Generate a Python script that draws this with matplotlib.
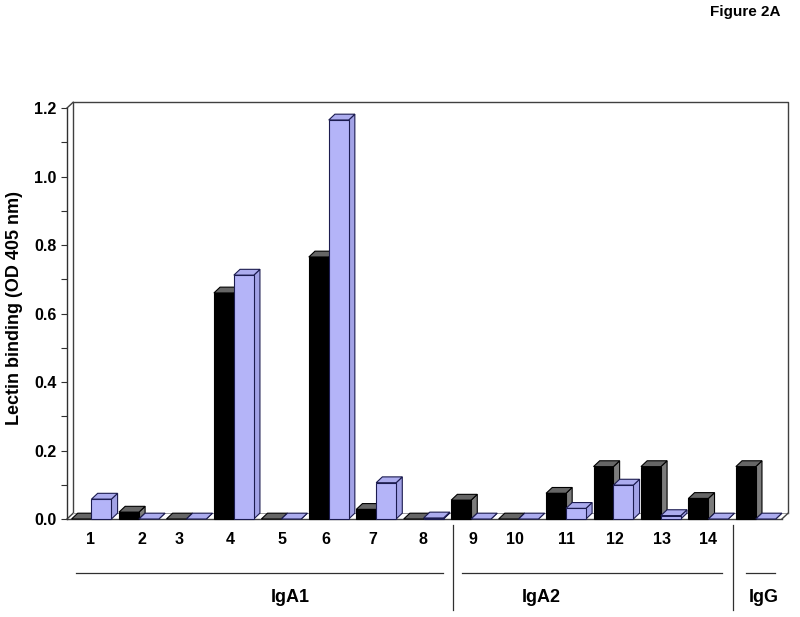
import matplotlib
matplotlib.use("Agg")
import matplotlib.pyplot as plt
from matplotlib.patches import Polygon

plt.rcParams['font.family'] = ['Liberation Sans', 'DejaVu Sans']

# ---- data ----
categories = ["1", "2", "3", "4", "5", "6", "7", "8", "9", "10", "11", "12", "13", "14", ""]
black_vals = [0.0, 0.02, 0.0, 0.66, 0.0, 0.765, 0.028, 0.0, 0.055, 0.0, 0.075, 0.153, 0.153, 0.06, 0.153]
blue_vals = [0.058, 0.0, 0.0, 0.712, 0.0, 1.165, 0.106, 0.003, 0.0, 0.0, 0.031, 0.099, 0.01, 0.0, 0.0]
groups = ["IgA1", "IgA2", "IgG"]
yticks = [0.0, 0.2, 0.4, 0.6, 0.8, 1.0, 1.2]

# label / decoration positions (in category units)
label_x = [-0.03, 1.06, 1.84, 2.92, 4.01, 4.94, 5.93, 6.99, 8.04, 8.93, 10.01, 11.03, 12.02, 12.99, 14.0]
group_lines = [(-0.327, 7.41), (7.81, 13.29), (13.79, 14.40)]
group_label_x = [4.18, 9.47, 14.17]
separators = [7.61, 13.52]

W = 0.42      # bar width
DX = 0.13     # depth offset x
DY = 0.017    # depth offset y
XMIN, XMAX = -0.516, 14.75
YMIN, YMAX = 0.0, 1.22

fig = plt.figure(figsize=(8, 6.17), dpi=100)
ax = fig.add_axes([0.08375, 0.15883, 0.9055, 0.6772])
ax.set_xlim(XMIN, XMAX)
ax.set_ylim(YMIN, YMAX)

for s in ['top', 'right', 'bottom']:
    ax.spines[s].set_visible(False)
ax.spines['left'].set_bounds(0, 1.2)
ax.spines['left'].set_color('#303030')
ax.spines['left'].set_linewidth(1.0)
ax.set_xticks([])
ax.set_yticks(yticks)
ax.set_yticklabels([f"{v:.1f}" for v in yticks], fontsize=11.5, fontweight='bold')
ax.set_yticks([0.1, 0.3, 0.5, 0.7, 0.9, 1.1], minor=True)
ax.tick_params(axis='y', which='both', direction='out', length=4.5, width=0.8, color='#303030', pad=3)

wall = '#404040'
# back wall & floor edges
x_back_r = 14.68
ax.plot([XMIN + DX, XMIN + DX, x_back_r, x_back_r], [DY, 1.2 + DY, 1.2 + DY, DY],
        color=wall, lw=1.0, clip_on=False)
ax.plot([XMIN, XMIN + DX], [1.2, 1.2 + DY], color=wall, lw=1.0, clip_on=False)
ax.plot([XMIN, XMIN + DX], [0, DY], color=wall, lw=1.0, clip_on=False)
ax.plot([XMIN + DX, x_back_r], [DY, DY], color='#9a9a9a', lw=0.7, clip_on=False)
ax.plot([XMIN, x_back_r - DX], [0, 0], color=wall, lw=1.0, clip_on=False)
ax.plot([x_back_r - DX, x_back_r], [0, DY], color=wall, lw=1.0, clip_on=False)


def bar3d(x0, h, front, top, side, edge, z):
    x1 = x0 + W
    ax.add_patch(Polygon([(x1, 0), (x1 + DX, DY), (x1 + DX, h + DY), (x1, h)],
                         closed=True, facecolor=side, edgecolor=edge, lw=0.8, zorder=z, clip_on=False))
    ax.add_patch(Polygon([(x0, h), (x1, h), (x1 + DX, h + DY), (x0 + DX, h + DY)],
                         closed=True, facecolor=top, edgecolor=edge, lw=0.8, zorder=z, clip_on=False))
    if h > 0:
        ax.add_patch(Polygon([(x0, 0), (x1, 0), (x1, h), (x0, h)],
                             closed=True, facecolor=front, edgecolor=edge, lw=0.8, zorder=z, clip_on=False))


z = 3
for i in range(len(categories)):
    bar3d(i - W, black_vals[i], '#000000', '#666666', '#7c7c7c', '#000000', z)
    z += 1
    bar3d(i, blue_vals[i], '#B4B4F8', '#ACACEE', '#A2A2E6', '#1c1c50', z)
    z += 1

# category labels
for lx, lab in zip(label_x, categories):
    if lab:
        ax.text(lx, -0.0613, lab, ha='center', va='center', fontsize=11.5,
                fontweight='bold', clip_on=False)

# group lines and labels
for (a, b) in group_lines:
    ax.plot([a, b], [-0.158, -0.158], color='#303030', lw=0.9, clip_on=False)
for gx, g in zip(group_label_x, groups):
    ax.text(gx, -0.228, g, ha='center', va='center', fontsize=13, fontweight='bold',
            fontstretch='condensed', clip_on=False)
for sx in separators:
    ax.plot([sx, sx], [-0.0175, -0.266], color='#303030', lw=0.9, clip_on=False)

fig.text(15 / 800, 0.5008, "Lectin binding (OD 405 nm)", rotation=90,
         ha='center', va='center', fontsize=13, fontweight='bold')
fig.text(0.931, 0.9805, "Figure 2A", ha='center', va='center', fontsize=11, fontweight='bold')

fig.savefig("out.png", dpi=100)
